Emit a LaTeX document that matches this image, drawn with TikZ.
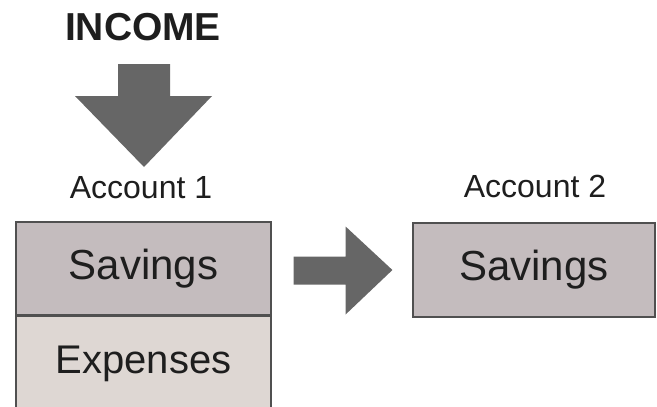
\documentclass[tikz,border=0pt]{standalone}
\usepackage{fontspec}
\setmainfont{Liberation Sans}
\usetikzlibrary{calc}
\definecolor{savcol}{RGB}{196,188,190}
\definecolor{expcol}{RGB}{222,215,211}
\definecolor{arrcol}{RGB}{102,102,102}
\definecolor{edgecol}{RGB}{80,80,80}
\definecolor{txtcol}{RGB}{30,30,30}

\begin{document}
\begin{tikzpicture}[x=1pt,y=-1pt,
    every node/.style={text=txtcol,inner sep=0pt},
    acct/.style={font=\fontsize{32}{36}\selectfont},
    pot/.style={draw=edgecol,line width=1.2pt,font=\fontsize{42}{46}\selectfont}]
  \useasboundingbox (0,0) rectangle (657,407);
  % labels
  \node[font=\fontsize{39}{43}\selectfont\bfseries] (income) at (143,27) {INCOME};
  \node[acct] (acc1) at (141,188) {Account 1};
  \node[acct] (acc2) at (535,186) {Account 2};
  % account boxes
  \node[pot,fill=savcol,minimum width=255pt,minimum height=93pt] (sav1) at (143.5,268.5) {Savings};
  \node[pot,fill=expcol,minimum width=255pt,minimum height=95pt,anchor=north,
        font=\fontsize{40}{44}\selectfont] (exp1) at (sav1.south) {Expenses};
  \node[pot,fill=savcol,minimum width=242pt,minimum height=94pt] (sav2) at (534,270) {Savings};
  % income arrow
  \coordinate (dtop) at (144,64);
  \coordinate (dtip) at (144,167);
  \fill[arrcol] ($(dtop)+(-26,0)$) -- ($(dtop)+(26,0)$) -- ($(dtop)+(26,32)$)
    -- ($(dtop)+(68,32)$) -- (dtip) -- ($(dtop)+(-69,32)$) -- ($(dtop)+(-26,32)$) -- cycle;
  % transfer arrow
  \coordinate (rtail) at ($(sav1.east)+(22,2)$);
  \coordinate (rtip) at ($(sav2.west)+(-20,0)$);
  \fill[arrcol] ($(rtail)+(0,-14)$) -- ($(rtail)+(52,-14)$) -- ($(rtail)+(52,-44)$)
    -- (rtip) -- ($(rtail)+(52,44)$) -- ($(rtail)+(52,14)$) -- ($(rtail)+(0,14)$) -- cycle;
\end{tikzpicture}
\end{document}
